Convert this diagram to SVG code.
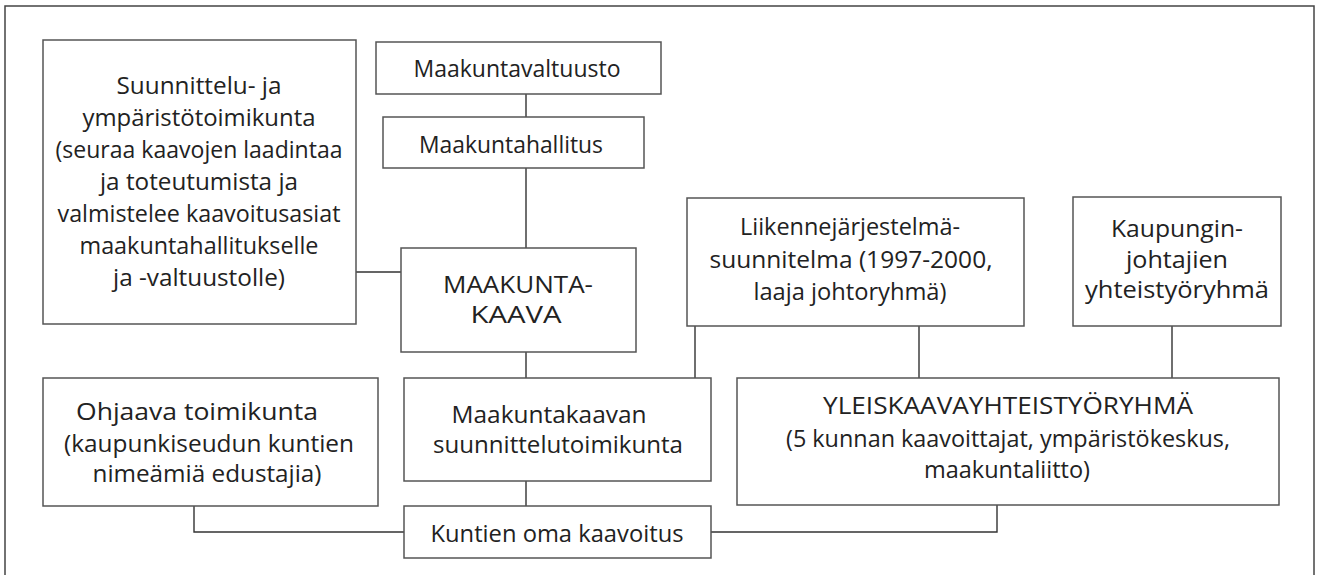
<svg xmlns="http://www.w3.org/2000/svg" width="1320" height="575" viewBox="0 0 1320 575">
<style>
.bx{fill:#fff;stroke:#555;stroke-width:1.5}
.fr{fill:none;stroke:#444;stroke-width:1.5}
.cn{fill:none;stroke:#333;stroke-width:1.4}
text{font-family:"Open Sans","Noto Sans","Liberation Sans",sans-serif;font-size:23px;fill:#222;text-anchor:middle}
.big{font-size:24px}
</style>
<rect x="0" y="0" width="1320" height="575" fill="#fff"/>
<rect class="fr" x="5" y="6" width="1309" height="600"/>
<g id="connectors">
<path class="cn" d="M526 94V117M526 168V248M356 272H401M526 352V378M526 481V506M695 326V378M919 326V378M1172 326V378M194 506V532H404M711 532H997V505"/>
</g>
<g id="suunnittelu">
<rect class="bx" x="43" y="40" width="313" height="284"/>
<text x="199" y="94" textLength="165" lengthAdjust="spacingAndGlyphs">Suunnittelu- ja</text>
<text x="199" y="126" textLength="233" lengthAdjust="spacingAndGlyphs">ympäristötoimikunta</text>
<text x="199" y="158" textLength="287" lengthAdjust="spacingAndGlyphs">(seuraa kaavojen laadintaa</text>
<text x="199" y="190" textLength="198" lengthAdjust="spacingAndGlyphs">ja toteutumista ja</text>
<text x="199" y="222" textLength="283" lengthAdjust="spacingAndGlyphs">valmistelee kaavoitusasiat</text>
<text x="199" y="254" textLength="239" lengthAdjust="spacingAndGlyphs">maakuntahallitukselle</text>
<text x="199" y="286" textLength="172" lengthAdjust="spacingAndGlyphs">ja -valtuustolle)</text>
</g>
<g id="maakuntavaltuusto">
<rect class="bx" x="376" y="42" width="285" height="52"/>
<text x="517" y="77" textLength="207" lengthAdjust="spacingAndGlyphs">Maakuntavaltuusto</text>
</g>
<g id="maakuntahallitus">
<rect class="bx" x="383" y="117" width="261" height="51"/>
<text x="511" y="153" textLength="184" lengthAdjust="spacingAndGlyphs">Maakuntahallitus</text>
</g>
<g id="maakuntakaava">
<rect class="bx" x="401" y="248" width="235" height="104"/>
<text class="big" x="518" y="293" textLength="150" lengthAdjust="spacingAndGlyphs">MAAKUNTA-</text>
<text class="big" x="516" y="323" textLength="91" lengthAdjust="spacingAndGlyphs">KAAVA</text>
</g>
<g id="liikenne">
<rect class="bx" x="687" y="198" width="337" height="128"/>
<text x="850" y="235" textLength="220" lengthAdjust="spacingAndGlyphs">Liikennejärjestelmä-</text>
<text x="851" y="268" textLength="283" lengthAdjust="spacingAndGlyphs">suunnitelma (1997-2000,</text>
<text x="850" y="300" textLength="193" lengthAdjust="spacingAndGlyphs">laaja johtoryhmä)</text>
</g>
<g id="kaupungin">
<rect class="bx" x="1073" y="197" width="208" height="129"/>
<text x="1177" y="237" textLength="132" lengthAdjust="spacingAndGlyphs">Kaupungin-</text>
<text x="1177" y="268" textLength="102" lengthAdjust="spacingAndGlyphs">johtajien</text>
<text x="1177" y="298" textLength="184" lengthAdjust="spacingAndGlyphs">yhteistyöryhmä</text>
</g>
<g id="ohjaava">
<rect class="bx" x="43" y="378" width="335" height="128"/>
<text x="197" y="420" textLength="242" lengthAdjust="spacingAndGlyphs">Ohjaava toimikunta</text>
<text x="209" y="452" textLength="290" lengthAdjust="spacingAndGlyphs">(kaupunkiseudun kuntien</text>
<text x="207" y="482" textLength="229" lengthAdjust="spacingAndGlyphs">nimeämiä edustajia)</text>
</g>
<g id="maakuntakaavan">
<rect class="bx" x="404" y="378" width="307" height="103"/>
<text x="549" y="423" textLength="195" lengthAdjust="spacingAndGlyphs">Maakuntakaavan</text>
<text x="558" y="453" textLength="250" lengthAdjust="spacingAndGlyphs">suunnittelutoimikunta</text>
</g>
<g id="kuntien">
<rect class="bx" x="404" y="506" width="307" height="52"/>
<text x="557" y="542" textLength="253" lengthAdjust="spacingAndGlyphs">Kuntien oma kaavoitus</text>
</g>
<g id="yleiskaava">
<rect class="bx" x="737" y="378" width="542" height="127"/>
<text x="1008" y="414" textLength="370" lengthAdjust="spacingAndGlyphs">YLEISKAAVAYHTEISTYÖRYHMÄ</text>
<text x="1008" y="447" textLength="444" lengthAdjust="spacingAndGlyphs">(5 kunnan kaavoittajat, ympäristökeskus,</text>
<text x="1007" y="478" textLength="166" lengthAdjust="spacingAndGlyphs">maakuntaliitto)</text>
</g>
</svg>
